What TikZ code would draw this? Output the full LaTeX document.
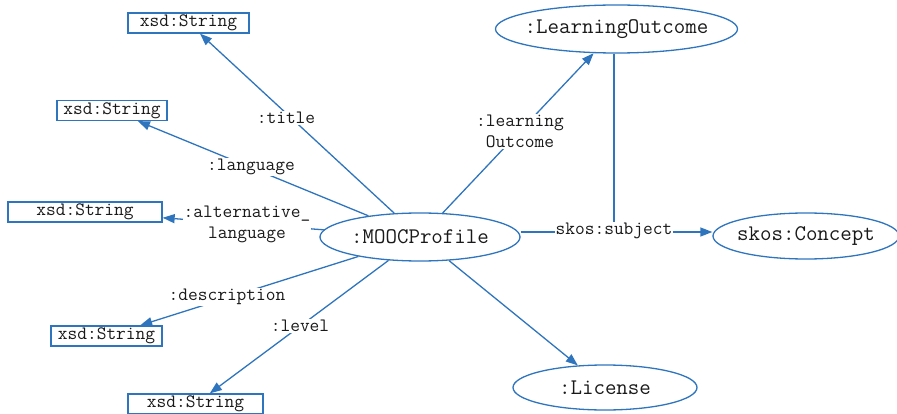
\documentclass[tikz,border=0pt]{standalone}
\usepackage{fontspec}
\setmonofont{Latin Modern Mono}
\usetikzlibrary{shapes.geometric,arrows.meta}
\definecolor{lblue}{RGB}{46,117,190}
\definecolor{txt}{RGB}{25,25,25}
\newcommand{\ctext}[1]{\makebox[0pt][c]{#1}}
\begin{document}
\begin{tikzpicture}[x=1pt,y=-1pt,
  strbox/.style={draw=lblue,line width=1.3pt,inner sep=0pt,minimum height=20pt,text=txt,font=\fontsize{18.9}{20}\selectfont\ttfamily},
  cls/.style={ellipse,draw=lblue,line width=1.3pt,inner sep=0pt,text=txt,font=\fontsize{22.3}{24}\selectfont\ttfamily},
  rel/.style={draw=lblue,line width=1.3pt,-{Triangle[length=12pt,width=9pt]}},
  plain/.style={draw=lblue,line width=1.3pt},
  lab/.style={fill=white,inner sep=1pt,align=center,text=txt,font=\fontsize{18.9}{21}\selectfont\ttfamily}]
\useasboundingbox (0,0) rectangle (897,414);
% nodes
\node[strbox,minimum width=121pt] (s1) at (188.5,23) {xsd:String};
\node[strbox,minimum width=110pt] (s2) at (112,110.5) {xsd:String};
\node[strbox,minimum width=154pt] (s3) at (85,212) {xsd:String};
\node[strbox,minimum width=111pt] (s4) at (106.5,336) {xsd:String};
\node[strbox,minimum width=135pt] (s5) at (195.5,404) {xsd:String};
\node[cls,minimum width=200pt,minimum height=48pt] (moo) at (420,237) {\ctext{:MOOCProfile}};
\node[cls,minimum width=242pt,minimum height=48pt] (lo) at (616.5,29) {\ctext{:LearningOutcome}};
\node[cls,minimum width=186pt,minimum height=46pt] (sc) at (806,236) {\ctext{skos:Concept}};
\node[cls,minimum width=184pt,minimum height=45pt] (lic) at (605,387.5) {\ctext{:License}};
% edges
\draw[rel] (moo) -- (s1);
\draw[rel] (moo) -- (s2);
\draw[rel] (moo) -- (s3);
\draw[rel] (moo) -- (s4);
\draw[rel] (moo) -- (s5);
\draw[rel] (moo) -- (lo);
\draw[rel] (moo) -- (lic);
\draw[rel] (moo.east |- 0,232) -- (sc.west |- 0,232);
% labels
\node[lab] (ltitle) at (286,118) {:title};
\node[lab] (llang) at (251,167) {:language};
\node[lab] (lalt) at (247,224) {:alternative\_\\language};
\node[lab] (ldesc) at (227,297) {:description};
\node[lab] (llev) at (300,326) {:level};
\node[lab] (llo) at (520,131.5) {:learning\\Outcome};
\node[lab] (lsub) at (614,231) {skos:subject};
\draw[plain] (lo.south -| lsub.north) -- (lsub.north);
\end{tikzpicture}
\end{document}
